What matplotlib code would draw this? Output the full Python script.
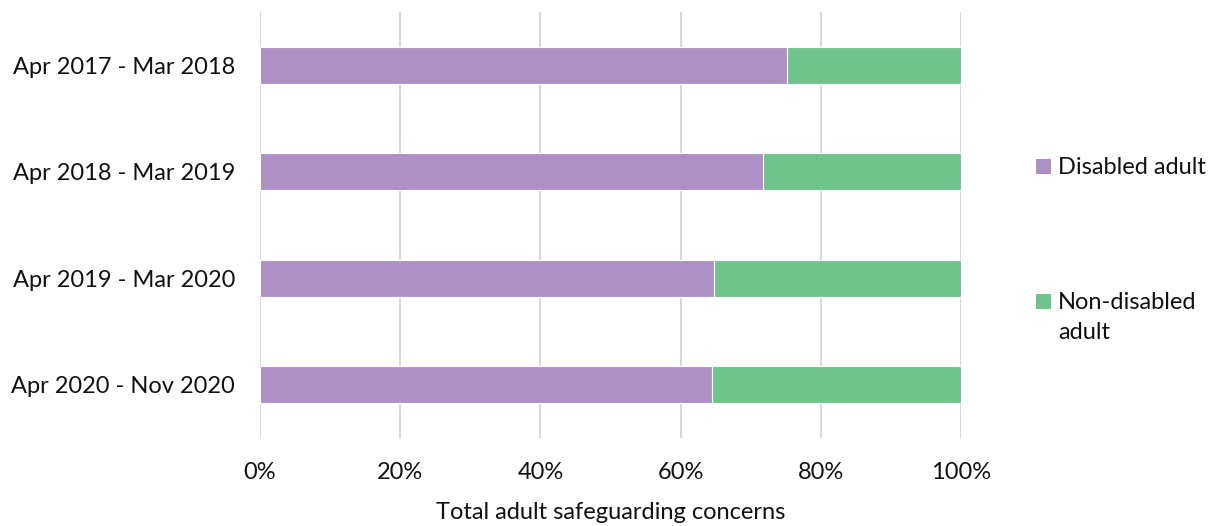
import matplotlib
matplotlib.use('Agg')
import matplotlib.pyplot as plt
from matplotlib.patches import Rectangle

periods = ['Apr 2017 - Mar 2018', 'Apr 2018 - Mar 2019', 'Apr 2019 - Mar 2020', 'Apr 2020 - Nov 2020']
disabled = [75.2, 71.7, 64.7, 64.5]
non_disabled = [100 - v for v in disabled]
series_names = ['Disabled adult', 'Non-disabled\nadult']
colours = ['#AD91C5', '#70C38D']

plt.rcParams['font.family'] = ['Lato', 'DejaVu Sans']
fs = 17

fig = plt.figure(figsize=(12.21, 5.26), dpi=100)
ax = fig.add_axes([260 / 1221, 1 - 438 / 526, (961 - 260) / 1221, (438 - 12) / 526])

y = list(range(len(periods)))
ax.barh(y, disabled, height=0.35, color=colours[0], edgecolor='white', linewidth=0.8, zorder=3)
ax.barh(y, non_disabled, left=disabled, height=0.35, color=colours[1], edgecolor='white', linewidth=0.8, zorder=3)

ax.set_xlim(0, 100)
ax.set_ylim(3.5, -0.5)
ax.set_yticks(y)
ax.set_yticklabels(periods, fontsize=fs, color='#111111')
ax.set_xticks([0, 20, 40, 60, 80, 100])
ax.set_xticklabels([f'{t}%' for t in [0, 20, 40, 60, 80, 100]], fontsize=fs, color='#111111')
ax.tick_params(length=0, pad=17, axis='x')
ax.tick_params(length=0, pad=18, axis='y')
ax.xaxis.grid(True, color='#D9D9D9', linewidth=1.5, zorder=0)
ax.set_axisbelow(True)
for s in ax.spines.values():
    s.set_visible(False)
ax.set_xlabel('Total adult safeguarding concerns', fontsize=fs, color='#111111', labelpad=14)

# legend drawn by hand so the marker sits beside the first text line
for name, col, yc in [(series_names[0], colours[0], 166.5), (series_names[1], colours[1], 301.5)]:
    fig.patches.append(Rectangle((1036 / 1221, 1 - (yc + 7.5) / 526), 15 / 1221, 15 / 526,
                                 transform=fig.transFigure, facecolor=col, edgecolor='none'))
    for i, line in enumerate(name.split('\n')):
        fig.text(1058 / 1221, 1 - (yc + 7.5 + 30 * i) / 526, line, fontsize=fs, color='#111111',
                 va='baseline', ha='left')

fig.savefig('out.png', dpi=100)
